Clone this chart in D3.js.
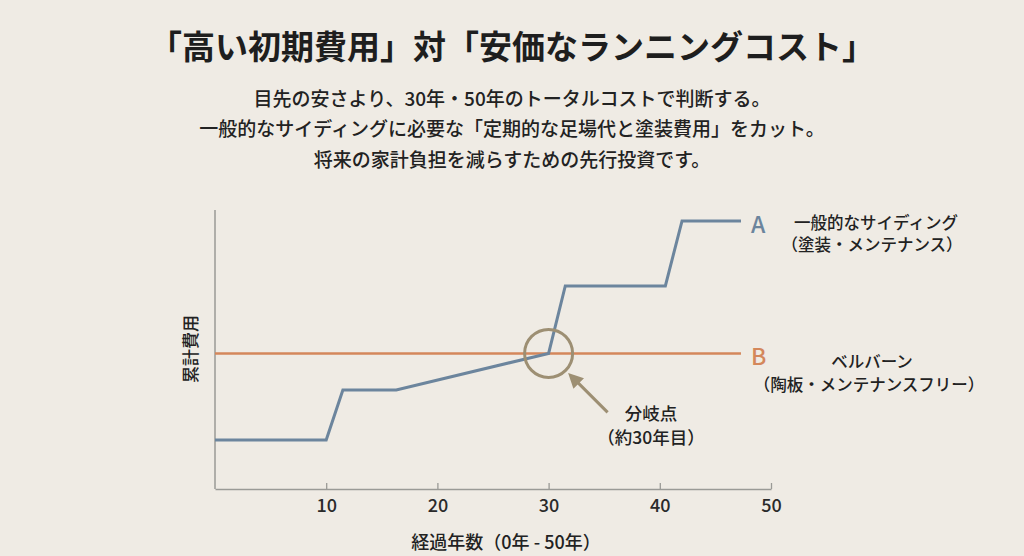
<!DOCTYPE html>
<html>
<head>
<meta charset="utf-8">
<script src="https://cdn.jsdelivr.net/npm/d3@7"></script>
<style>
    body { margin: 0; background: #efebe4; }
    svg { display: block; font-family: "Noto Sans CJK JP", "Noto Sans", sans-serif; }
</style>
</head>
<body>
<svg id="chart" width="1024" height="556"></svg>
<script>
// data (cost axis has no scale, 0-100 relative)
const yearsA = [0, 10, 11.5, 16.3, 30, 31.5, 40.5, 42, 47.3]
const costA = [17.6, 17.6, 35.5, 35.5, 48.6, 72.8, 72.8, 96.1, 96.1]
const yearsB = [0, 47.3]
const costB = [48.6, 48.6]
const xTicks = [10, 20, 30, 40, 50]
const branchYear = 30

const title = '「高い初期費用」対「安価なランニングコスト」'
const subtitle = [
    '目先の安さより、30年・50年のトータルコストで判断する。',
    '一般的なサイディングに必要な「定期的な足場代と塗装費用」をカット。',
    '将来の家計負担を減らすための先行投資です。'
]

const blue = '#6c859d'
const orange = '#d4875b'
const tan = '#9d8f73'

const svg = d3.select('#chart')

const x = d3.scaleLinear().domain([0, 50]).range([215, 771])
const y = d3.scaleLinear().domain([0, 100]).range([489, 210])

// header
svg.append('text')
    .attr('x', 512).attr('y', 45)
    .attr('text-anchor', 'middle').attr('dominant-baseline', 'central')
    .attr('font-size', 33).attr('font-weight', 700).attr('fill', '#1e1e1e')
    .text(title)

svg.selectAll('text.sub')
    .data(subtitle)
    .join('text')
    .classed('sub', true)
    .attr('x', 512)
    .attr('y', (d, i) => 97 + i * 30.5)
    .attr('text-anchor', 'middle').attr('dominant-baseline', 'central')
    .attr('font-size', 19).attr('font-weight', 500).attr('fill', '#222')
    .text(d => d)

// axes
svg.append('line')
    .attr('x1', x(0)).attr('x2', x(0))
    .attr('y1', y(0)).attr('y2', y(100))
    .attr('stroke', '#9a9a96').attr('stroke-width', 1.5)

const xAxis = svg.append('g')
    .attr('transform', `translate(0, ${y(0)})`)
    .call(d3.axisBottom(x).tickValues(xTicks).tickSizeInner(-6).tickSizeOuter(0).tickPadding(10))

xAxis.select('.domain').attr('stroke', '#9a9a96').attr('stroke-width', 1.5)
xAxis.selectAll('.tick line').attr('stroke', '#9a9a96').attr('stroke-width', 1.3)
xAxis.selectAll('.tick text')
    .attr('font-size', 18).attr('font-weight', 500).attr('fill', '#2a2a2a')
    .attr('font-family', '"Noto Sans CJK JP", sans-serif')

svg.append('text')
    .attr('x', 506).attr('y', 541)
    .attr('text-anchor', 'middle').attr('dominant-baseline', 'central')
    .attr('font-size', 18).attr('font-weight', 500).attr('fill', '#222')
    .text('経過年数（0年 - 50年）')

svg.append('text')
    .attr('transform', `translate(189, 349) rotate(-90)`)
    .attr('text-anchor', 'middle').attr('dominant-baseline', 'central')
    .attr('font-size', 17).attr('font-weight', 500).attr('fill', '#222')
    .text('累計費用')

// lines
const line = d3.line().x(d => x(d[0])).y(d => y(d[1]))

svg.append('path')
    .datum(d3.zip(yearsB, costB))
    .attr('d', line)
    .attr('fill', 'none').attr('stroke', orange).attr('stroke-width', 2.5)

svg.append('path')
    .datum(d3.zip(yearsA, costA))
    .attr('d', line)
    .attr('fill', 'none').attr('stroke', blue).attr('stroke-width', 3)
    .attr('stroke-linejoin', 'miter')

// series labels
const lastA = costA[costA.length - 1]
const lastB = costB[costB.length - 1]
const endX = x(yearsA[yearsA.length - 1])

svg.append('text')
    .attr('x', endX + 10).attr('y', y(lastA) + 2)
    .attr('dominant-baseline', 'central')
    .attr('font-size', 23).attr('font-weight', 500).attr('fill', blue)
    .text('A')

svg.append('text')
    .attr('x', endX + 10).attr('y', y(lastB) + 2)
    .attr('dominant-baseline', 'central')
    .attr('font-size', 23).attr('font-weight', 500).attr('fill', orange)
    .text('B')

const labelA = ['一般的なサイディング', '（塗装・メンテナンス）']
const labelB = ['ベルバーン', '（陶板・メンテナンスフリー）']

svg.selectAll('text.la')
    .data(labelA)
    .join('text')
    .classed('la', true)
    .attr('x', (d, i) => i ? 872 : 876)
    .attr('y', (d, i) => y(lastA) + 1 + i * 22.5)
    .attr('text-anchor', 'middle').attr('dominant-baseline', 'central')
    .attr('font-size', 16.5).attr('font-weight', 500).attr('fill', '#222')
    .text(d => d)

svg.selectAll('text.lb')
    .data(labelB)
    .join('text')
    .classed('lb', true)
    .attr('x', (d, i) => i ? 869 : 872)
    .attr('y', (d, i) => y(lastB) + 8 + i * 22.5)
    .attr('text-anchor', 'middle').attr('dominant-baseline', 'central')
    .attr('font-size', 16.5).attr('font-weight', 500).attr('fill', '#222')
    .text(d => d)

// branch point marker
const cx = x(branchYear)
const cy = y(costB[0])

svg.append('circle')
    .attr('cx', cx).attr('cy', cy).attr('r', 24)
    .attr('fill', 'none').attr('stroke', tan).attr('stroke-width', 3)

svg.append('defs').append('marker')
    .attr('id', 'arrow')
    .attr('viewBox', '0 0 10 10')
    .attr('refX', 2).attr('refY', 5)
    .attr('markerWidth', 5).attr('markerHeight', 5)
    .attr('orient', 'auto-start-reverse')
    .append('path')
    .attr('d', 'M0,0 L10,5 L0,10 z')
    .attr('fill', tan)

svg.append('line')
    .attr('x1', cx + 59).attr('y1', cy + 59)
    .attr('x2', cx + 28).attr('y2', cy + 28)
    .attr('stroke', tan).attr('stroke-width', 3)
    .attr('marker-end', 'url(#arrow)')

svg.selectAll('text.branch')
    .data(['分岐点', '（約30年目）'])
    .join('text')
    .classed('branch', true)
    .attr('x', 651)
    .attr('y', (d, i) => 412 + i * 24)
    .attr('text-anchor', 'middle').attr('dominant-baseline', 'central')
    .attr('font-size', 17.5).attr('font-weight', 500).attr('fill', '#222')
    .text(d => d)
</script>
</body>
</html>
